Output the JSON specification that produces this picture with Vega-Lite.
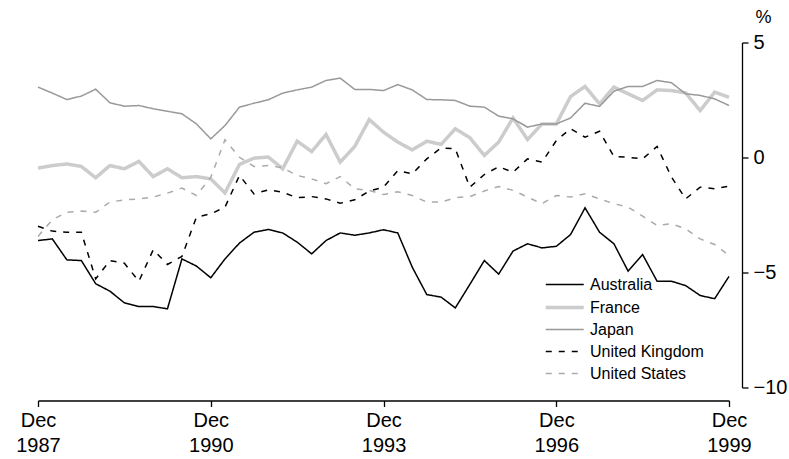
{
"$schema": "https://vega.github.io/schema/vega-lite/v6.json",
"autosize": "none",
"width": 691,
"height": 345,
"padding": {"left": 38, "top": 42.5, "right": 60, "bottom": 71.5},
"background": "white",
"config": {
  "view": {"stroke": null},
  "font": "Liberation Sans",
  "axis": {"domainColor": "black", "domainWidth": 1.3, "tickColor": "black", "tickWidth": 1.3, "labelColor": "black", "labelFont": "Liberation Sans", "labelFontSize": 20, "grid": false, "titleColor": "black", "titleFont": "Liberation Sans"},
  "legend": {"labelFont": "Liberation Sans", "labelColor": "black"}
},
"data": {"values": [
{"d":"1987-12-01T00:00","c":"Australia","v":-3.61},{"d":"1988-03-01T00:00","c":"Australia","v":-3.54},{"d":"1988-06-01T00:00","c":"Australia","v":-4.45},{"d":"1988-09-01T00:00","c":"Australia","v":-4.48},
{"d":"1988-12-01T00:00","c":"Australia","v":-5.49},{"d":"1989-03-01T00:00","c":"Australia","v":-5.81},{"d":"1989-06-01T00:00","c":"Australia","v":-6.32},{"d":"1989-09-01T00:00","c":"Australia","v":-6.48},
{"d":"1989-12-01T00:00","c":"Australia","v":-6.48},{"d":"1990-03-01T00:00","c":"Australia","v":-6.58},{"d":"1990-06-01T00:00","c":"Australia","v":-4.41},{"d":"1990-09-01T00:00","c":"Australia","v":-4.72},
{"d":"1990-12-01T00:00","c":"Australia","v":-5.23},{"d":"1991-03-01T00:00","c":"Australia","v":-4.41},{"d":"1991-06-01T00:00","c":"Australia","v":-3.72},{"d":"1991-09-01T00:00","c":"Australia","v":-3.25},
{"d":"1991-12-01T00:00","c":"Australia","v":-3.13},{"d":"1992-03-01T00:00","c":"Australia","v":-3.28},{"d":"1992-06-01T00:00","c":"Australia","v":-3.68},{"d":"1992-09-01T00:00","c":"Australia","v":-4.19},
{"d":"1992-12-01T00:00","c":"Australia","v":-3.61},{"d":"1993-03-01T00:00","c":"Australia","v":-3.28},{"d":"1993-06-01T00:00","c":"Australia","v":-3.38},{"d":"1993-09-01T00:00","c":"Australia","v":-3.28},
{"d":"1993-12-01T00:00","c":"Australia","v":-3.14},{"d":"1994-03-01T00:00","c":"Australia","v":-3.28},{"d":"1994-06-01T00:00","c":"Australia","v":-4.77},{"d":"1994-09-01T00:00","c":"Australia","v":-5.96},
{"d":"1994-12-01T00:00","c":"Australia","v":-6.07},{"d":"1995-03-01T00:00","c":"Australia","v":-6.54},{"d":"1995-06-01T00:00","c":"Australia","v":-5.52},{"d":"1995-09-01T00:00","c":"Australia","v":-4.48},
{"d":"1995-12-01T00:00","c":"Australia","v":-5.07},{"d":"1996-03-01T00:00","c":"Australia","v":-4.07},{"d":"1996-06-01T00:00","c":"Australia","v":-3.75},{"d":"1996-09-01T00:00","c":"Australia","v":-3.93},
{"d":"1996-12-01T00:00","c":"Australia","v":-3.86},{"d":"1997-03-01T00:00","c":"Australia","v":-3.35},{"d":"1997-06-01T00:00","c":"Australia","v":-2.19},{"d":"1997-09-01T00:00","c":"Australia","v":-3.25},
{"d":"1997-12-01T00:00","c":"Australia","v":-3.75},{"d":"1998-03-01T00:00","c":"Australia","v":-4.94},{"d":"1998-06-01T00:00","c":"Australia","v":-4.22},{"d":"1998-09-01T00:00","c":"Australia","v":-5.38},
{"d":"1998-12-01T00:00","c":"Australia","v":-5.38},{"d":"1999-03-01T00:00","c":"Australia","v":-5.57},{"d":"1999-06-01T00:00","c":"Australia","v":-6.0},{"d":"1999-09-01T00:00","c":"Australia","v":-6.14},
{"d":"1999-12-01T00:00","c":"Australia","v":-5.17},

{"d":"1987-12-01T00:00","c":"France","v":-0.46},{"d":"1988-03-01T00:00","c":"France","v":-0.35},{"d":"1988-06-01T00:00","c":"France","v":-0.28},{"d":"1988-09-01T00:00","c":"France","v":-0.39},
{"d":"1988-12-01T00:00","c":"France","v":-0.88},{"d":"1989-03-01T00:00","c":"France","v":-0.35},{"d":"1989-06-01T00:00","c":"France","v":-0.49},{"d":"1989-09-01T00:00","c":"France","v":-0.17},
{"d":"1989-12-01T00:00","c":"France","v":-0.83},{"d":"1990-03-01T00:00","c":"France","v":-0.49},{"d":"1990-06-01T00:00","c":"France","v":-0.88},{"d":"1990-09-01T00:00","c":"France","v":-0.83},
{"d":"1990-12-01T00:00","c":"France","v":-0.93},{"d":"1991-03-01T00:00","c":"France","v":-1.54},{"d":"1991-06-01T00:00","c":"France","v":-0.3},{"d":"1991-09-01T00:00","c":"France","v":-0.03},
{"d":"1991-12-01T00:00","c":"France","v":0.02},{"d":"1992-03-01T00:00","c":"France","v":-0.49},{"d":"1992-06-01T00:00","c":"France","v":0.71},{"d":"1992-09-01T00:00","c":"France","v":0.26},
{"d":"1992-12-01T00:00","c":"France","v":1.0},{"d":"1993-03-01T00:00","c":"France","v":-0.2},{"d":"1993-06-01T00:00","c":"France","v":0.48},{"d":"1993-09-01T00:00","c":"France","v":1.65},
{"d":"1993-12-01T00:00","c":"France","v":1.1},{"d":"1994-03-01T00:00","c":"France","v":0.67},{"d":"1994-06-01T00:00","c":"France","v":0.33},{"d":"1994-09-01T00:00","c":"France","v":0.71},
{"d":"1994-12-01T00:00","c":"France","v":0.57},{"d":"1995-03-01T00:00","c":"France","v":1.25},{"d":"1995-06-01T00:00","c":"France","v":0.86},{"d":"1995-09-01T00:00","c":"France","v":0.09},
{"d":"1995-12-01T00:00","c":"France","v":0.67},{"d":"1996-03-01T00:00","c":"France","v":1.72},{"d":"1996-06-01T00:00","c":"France","v":0.78},{"d":"1996-09-01T00:00","c":"France","v":1.46},
{"d":"1996-12-01T00:00","c":"France","v":1.46},{"d":"1997-03-01T00:00","c":"France","v":2.65},{"d":"1997-06-01T00:00","c":"France","v":3.09},{"d":"1997-09-01T00:00","c":"France","v":2.33},
{"d":"1997-12-01T00:00","c":"France","v":3.06},{"d":"1998-03-01T00:00","c":"France","v":2.77},{"d":"1998-06-01T00:00","c":"France","v":2.48},{"d":"1998-09-01T00:00","c":"France","v":2.94},
{"d":"1998-12-01T00:00","c":"France","v":2.91},{"d":"1999-03-01T00:00","c":"France","v":2.81},{"d":"1999-06-01T00:00","c":"France","v":2.04},{"d":"1999-09-01T00:00","c":"France","v":2.84},
{"d":"1999-12-01T00:00","c":"France","v":2.62},

{"d":"1987-12-01T00:00","c":"Japan","v":3.06},{"d":"1988-03-01T00:00","c":"Japan","v":2.8},{"d":"1988-06-01T00:00","c":"Japan","v":2.52},{"d":"1988-09-01T00:00","c":"Japan","v":2.67},
{"d":"1988-12-01T00:00","c":"Japan","v":2.97},{"d":"1989-03-01T00:00","c":"Japan","v":2.38},{"d":"1989-06-01T00:00","c":"Japan","v":2.23},{"d":"1989-09-01T00:00","c":"Japan","v":2.26},
{"d":"1989-12-01T00:00","c":"Japan","v":2.12},{"d":"1990-03-01T00:00","c":"Japan","v":2.01},{"d":"1990-06-01T00:00","c":"Japan","v":1.9},{"d":"1990-09-01T00:00","c":"Japan","v":1.46},
{"d":"1990-12-01T00:00","c":"Japan","v":0.81},{"d":"1991-03-01T00:00","c":"Japan","v":1.39},{"d":"1991-06-01T00:00","c":"Japan","v":2.19},{"d":"1991-09-01T00:00","c":"Japan","v":2.36},
{"d":"1991-12-01T00:00","c":"Japan","v":2.51},{"d":"1992-03-01T00:00","c":"Japan","v":2.8},{"d":"1992-06-01T00:00","c":"Japan","v":2.94},{"d":"1992-09-01T00:00","c":"Japan","v":3.06},
{"d":"1992-12-01T00:00","c":"Japan","v":3.35},{"d":"1993-03-01T00:00","c":"Japan","v":3.45},{"d":"1993-06-01T00:00","c":"Japan","v":2.96},{"d":"1993-09-01T00:00","c":"Japan","v":2.96},
{"d":"1993-12-01T00:00","c":"Japan","v":2.91},{"d":"1994-03-01T00:00","c":"Japan","v":3.17},{"d":"1994-06-01T00:00","c":"Japan","v":2.94},{"d":"1994-09-01T00:00","c":"Japan","v":2.52},
{"d":"1994-12-01T00:00","c":"Japan","v":2.51},{"d":"1995-03-01T00:00","c":"Japan","v":2.48},{"d":"1995-06-01T00:00","c":"Japan","v":2.23},{"d":"1995-09-01T00:00","c":"Japan","v":2.19},
{"d":"1995-12-01T00:00","c":"Japan","v":1.8},{"d":"1996-03-01T00:00","c":"Japan","v":1.68},{"d":"1996-06-01T00:00","c":"Japan","v":1.32},{"d":"1996-09-01T00:00","c":"Japan","v":1.46},
{"d":"1996-12-01T00:00","c":"Japan","v":1.46},{"d":"1997-03-01T00:00","c":"Japan","v":1.72},{"d":"1997-06-01T00:00","c":"Japan","v":2.36},{"d":"1997-09-01T00:00","c":"Japan","v":2.22},
{"d":"1997-12-01T00:00","c":"Japan","v":2.88},{"d":"1998-03-01T00:00","c":"Japan","v":3.09},{"d":"1998-06-01T00:00","c":"Japan","v":3.09},{"d":"1998-09-01T00:00","c":"Japan","v":3.35},
{"d":"1998-12-01T00:00","c":"Japan","v":3.25},{"d":"1999-03-01T00:00","c":"Japan","v":2.77},{"d":"1999-06-01T00:00","c":"Japan","v":2.7},{"d":"1999-09-01T00:00","c":"Japan","v":2.55},
{"d":"1999-12-01T00:00","c":"Japan","v":2.26},

{"d":"1987-12-01T00:00","c":"United Kingdom","v":-2.99},{"d":"1988-03-01T00:00","c":"United Kingdom","v":-3.2},{"d":"1988-06-01T00:00","c":"United Kingdom","v":-3.25},{"d":"1988-09-01T00:00","c":"United Kingdom","v":-3.25},
{"d":"1988-12-01T00:00","c":"United Kingdom","v":-5.28},{"d":"1989-03-01T00:00","c":"United Kingdom","v":-4.48},{"d":"1989-06-01T00:00","c":"United Kingdom","v":-4.6},{"d":"1989-09-01T00:00","c":"United Kingdom","v":-5.38},
{"d":"1989-12-01T00:00","c":"United Kingdom","v":-4.01},{"d":"1990-03-01T00:00","c":"United Kingdom","v":-4.65},{"d":"1990-06-01T00:00","c":"United Kingdom","v":-4.3},{"d":"1990-09-01T00:00","c":"United Kingdom","v":-2.59},
{"d":"1990-12-01T00:00","c":"United Kingdom","v":-2.45},{"d":"1991-03-01T00:00","c":"United Kingdom","v":-2.16},{"d":"1991-06-01T00:00","c":"United Kingdom","v":-0.78},{"d":"1991-09-01T00:00","c":"United Kingdom","v":-1.58},
{"d":"1991-12-01T00:00","c":"United Kingdom","v":-1.41},{"d":"1992-03-01T00:00","c":"United Kingdom","v":-1.51},{"d":"1992-06-01T00:00","c":"United Kingdom","v":-1.75},{"d":"1992-09-01T00:00","c":"United Kingdom","v":-1.7},
{"d":"1992-12-01T00:00","c":"United Kingdom","v":-1.8},{"d":"1993-03-01T00:00","c":"United Kingdom","v":-1.99},{"d":"1993-06-01T00:00","c":"United Kingdom","v":-1.84},{"d":"1993-09-01T00:00","c":"United Kingdom","v":-1.46},
{"d":"1993-12-01T00:00","c":"United Kingdom","v":-1.29},{"d":"1994-03-01T00:00","c":"United Kingdom","v":-0.57},{"d":"1994-06-01T00:00","c":"United Kingdom","v":-0.71},{"d":"1994-09-01T00:00","c":"United Kingdom","v":-0.06},
{"d":"1994-12-01T00:00","c":"United Kingdom","v":0.42},{"d":"1995-03-01T00:00","c":"United Kingdom","v":0.38},{"d":"1995-06-01T00:00","c":"United Kingdom","v":-1.29},{"d":"1995-09-01T00:00","c":"United Kingdom","v":-0.74},
{"d":"1995-12-01T00:00","c":"United Kingdom","v":-0.4},{"d":"1996-03-01T00:00","c":"United Kingdom","v":-0.64},{"d":"1996-06-01T00:00","c":"United Kingdom","v":-0.06},{"d":"1996-09-01T00:00","c":"United Kingdom","v":-0.2},
{"d":"1996-12-01T00:00","c":"United Kingdom","v":0.74},{"d":"1997-03-01T00:00","c":"United Kingdom","v":1.25},{"d":"1997-06-01T00:00","c":"United Kingdom","v":0.88},{"d":"1997-09-01T00:00","c":"United Kingdom","v":1.14},
{"d":"1997-12-01T00:00","c":"United Kingdom","v":0.04},{"d":"1998-03-01T00:00","c":"United Kingdom","v":0.01},{"d":"1998-06-01T00:00","c":"United Kingdom","v":-0.06},{"d":"1998-09-01T00:00","c":"United Kingdom","v":0.48},
{"d":"1998-12-01T00:00","c":"United Kingdom","v":-0.85},{"d":"1999-03-01T00:00","c":"United Kingdom","v":-1.8},{"d":"1999-06-01T00:00","c":"United Kingdom","v":-1.29},{"d":"1999-09-01T00:00","c":"United Kingdom","v":-1.36},
{"d":"1999-12-01T00:00","c":"United Kingdom","v":-1.25},

{"d":"1987-12-01T00:00","c":"United States","v":-3.43},{"d":"1988-03-01T00:00","c":"United States","v":-2.71},{"d":"1988-06-01T00:00","c":"United States","v":-2.38},{"d":"1988-09-01T00:00","c":"United States","v":-2.33},
{"d":"1988-12-01T00:00","c":"United States","v":-2.38},{"d":"1989-03-01T00:00","c":"United States","v":-1.94},{"d":"1989-06-01T00:00","c":"United States","v":-1.84},{"d":"1989-09-01T00:00","c":"United States","v":-1.8},
{"d":"1989-12-01T00:00","c":"United States","v":-1.72},{"d":"1990-03-01T00:00","c":"United States","v":-1.55},{"d":"1990-06-01T00:00","c":"United States","v":-1.33},{"d":"1990-09-01T00:00","c":"United States","v":-1.65},
{"d":"1990-12-01T00:00","c":"United States","v":-0.86},{"d":"1991-03-01T00:00","c":"United States","v":0.77},{"d":"1991-06-01T00:00","c":"United States","v":0.01},{"d":"1991-09-01T00:00","c":"United States","v":-0.39},
{"d":"1991-12-01T00:00","c":"United States","v":-0.35},{"d":"1992-03-01T00:00","c":"United States","v":-0.45},{"d":"1992-06-01T00:00","c":"United States","v":-0.78},{"d":"1992-09-01T00:00","c":"United States","v":-0.93},
{"d":"1992-12-01T00:00","c":"United States","v":-1.14},{"d":"1993-03-01T00:00","c":"United States","v":-0.83},{"d":"1993-06-01T00:00","c":"United States","v":-1.36},{"d":"1993-09-01T00:00","c":"United States","v":-1.43},
{"d":"1993-12-01T00:00","c":"United States","v":-1.61},{"d":"1994-03-01T00:00","c":"United States","v":-1.49},{"d":"1994-06-01T00:00","c":"United States","v":-1.65},{"d":"1994-09-01T00:00","c":"United States","v":-1.94},
{"d":"1994-12-01T00:00","c":"United States","v":-1.94},{"d":"1995-03-01T00:00","c":"United States","v":-1.75},{"d":"1995-06-01T00:00","c":"United States","v":-1.7},{"d":"1995-09-01T00:00","c":"United States","v":-1.46},
{"d":"1995-12-01T00:00","c":"United States","v":-1.26},{"d":"1996-03-01T00:00","c":"United States","v":-1.43},{"d":"1996-06-01T00:00","c":"United States","v":-1.72},{"d":"1996-09-01T00:00","c":"United States","v":-2.01},
{"d":"1996-12-01T00:00","c":"United States","v":-1.65},{"d":"1997-03-01T00:00","c":"United States","v":-1.72},{"d":"1997-06-01T00:00","c":"United States","v":-1.58},{"d":"1997-09-01T00:00","c":"United States","v":-1.8},
{"d":"1997-12-01T00:00","c":"United States","v":-2.01},{"d":"1998-03-01T00:00","c":"United States","v":-2.16},{"d":"1998-06-01T00:00","c":"United States","v":-2.55},{"d":"1998-09-01T00:00","c":"United States","v":-2.96},
{"d":"1998-12-01T00:00","c":"United States","v":-2.88},{"d":"1999-03-01T00:00","c":"United States","v":-3.1},{"d":"1999-06-01T00:00","c":"United States","v":-3.54},{"d":"1999-09-01T00:00","c":"United States","v":-3.78},
{"d":"1999-12-01T00:00","c":"United States","v":-4.26}
]},
"mark": {"type": "line", "strokeCap": "butt", "strokeJoin": "miter"},
"encoding": {
  "x": {"field": "d", "type": "temporal",
    "scale": {"domain": [{"year": 1987, "month": 12, "date": 1}, {"year": 1999, "month": 12, "date": 1}], "nice": false},
    "axis": {"title": null, "orient": "bottom", "offset": 13, "tickSize": 6, "labelPadding": 4, "labelLineHeight": 25,
      "values": [{"year": 1987, "month": 12, "date": 1}, {"year": 1990, "month": 12, "date": 1}, {"year": 1993, "month": 12, "date": 1}, {"year": 1996, "month": 12, "date": 1}, {"year": 1999, "month": 12, "date": 1}],
      "labelExpr": "['Dec', timeFormat(datum.value, '%Y')]", "labelFlush": false, "labelOverlap": false, "labelBaseline": "top"}},
  "y": {"field": "v", "type": "quantitative",
    "scale": {"domain": [-10, 5], "nice": false, "zero": false},
    "axis": {"orient": "right", "offset": 13, "values": [-10, -5, 0, 5], "tickSize": 6, "labelPadding": 5,
      "title": "%", "titleAngle": 0, "titleX": 21, "titleY": -25, "titleAlign": "center", "titleBaseline": "middle", "titleFontSize": 18, "titleFontWeight": "normal"}},
  "color": {"field": "c", "type": "nominal",
    "scale": {"domain": ["Australia", "France", "Japan", "United Kingdom", "United States"], "range": ["#000000", "#cccccc", "#999999", "#000000", "#aaaaaa"]},
    "legend": {"title": null, "orient": "none", "legendX": 506, "legendY": 230, "padding": 0, "rowPadding": 2,
      "symbolType": "M-1,0H2.378", "symbolSize": 506, "labelFontSize": 16, "labelOffset": 20, "labelColor": "black"}},
  "strokeDash": {"field": "c", "type": "nominal",
    "scale": {"domain": ["Australia", "France", "Japan", "United Kingdom", "United States"], "range": [[1, 0], [1, 0], [1, 0], [6, 7], [6, 7]]},
    "legend": {"title": null, "orient": "none", "legendX": 506, "legendY": 230, "padding": 0, "rowPadding": 2,
      "symbolType": "M-1,0H2.378", "symbolSize": 506, "labelFontSize": 16, "labelOffset": 20, "labelColor": "black"}},
  "strokeWidth": {"field": "c", "type": "nominal",
    "scale": {"type": "ordinal", "domain": ["Australia", "France", "Japan", "United Kingdom", "United States"], "range": [1.5, 3.5, 1.5, 1.5, 1.5]},
    "legend": {"title": null, "orient": "none", "legendX": 506, "legendY": 230, "padding": 0, "rowPadding": 2,
      "symbolType": "M-1,0H2.378", "symbolSize": 506, "labelFontSize": 16, "labelOffset": 20, "labelColor": "black"}}
}
}
